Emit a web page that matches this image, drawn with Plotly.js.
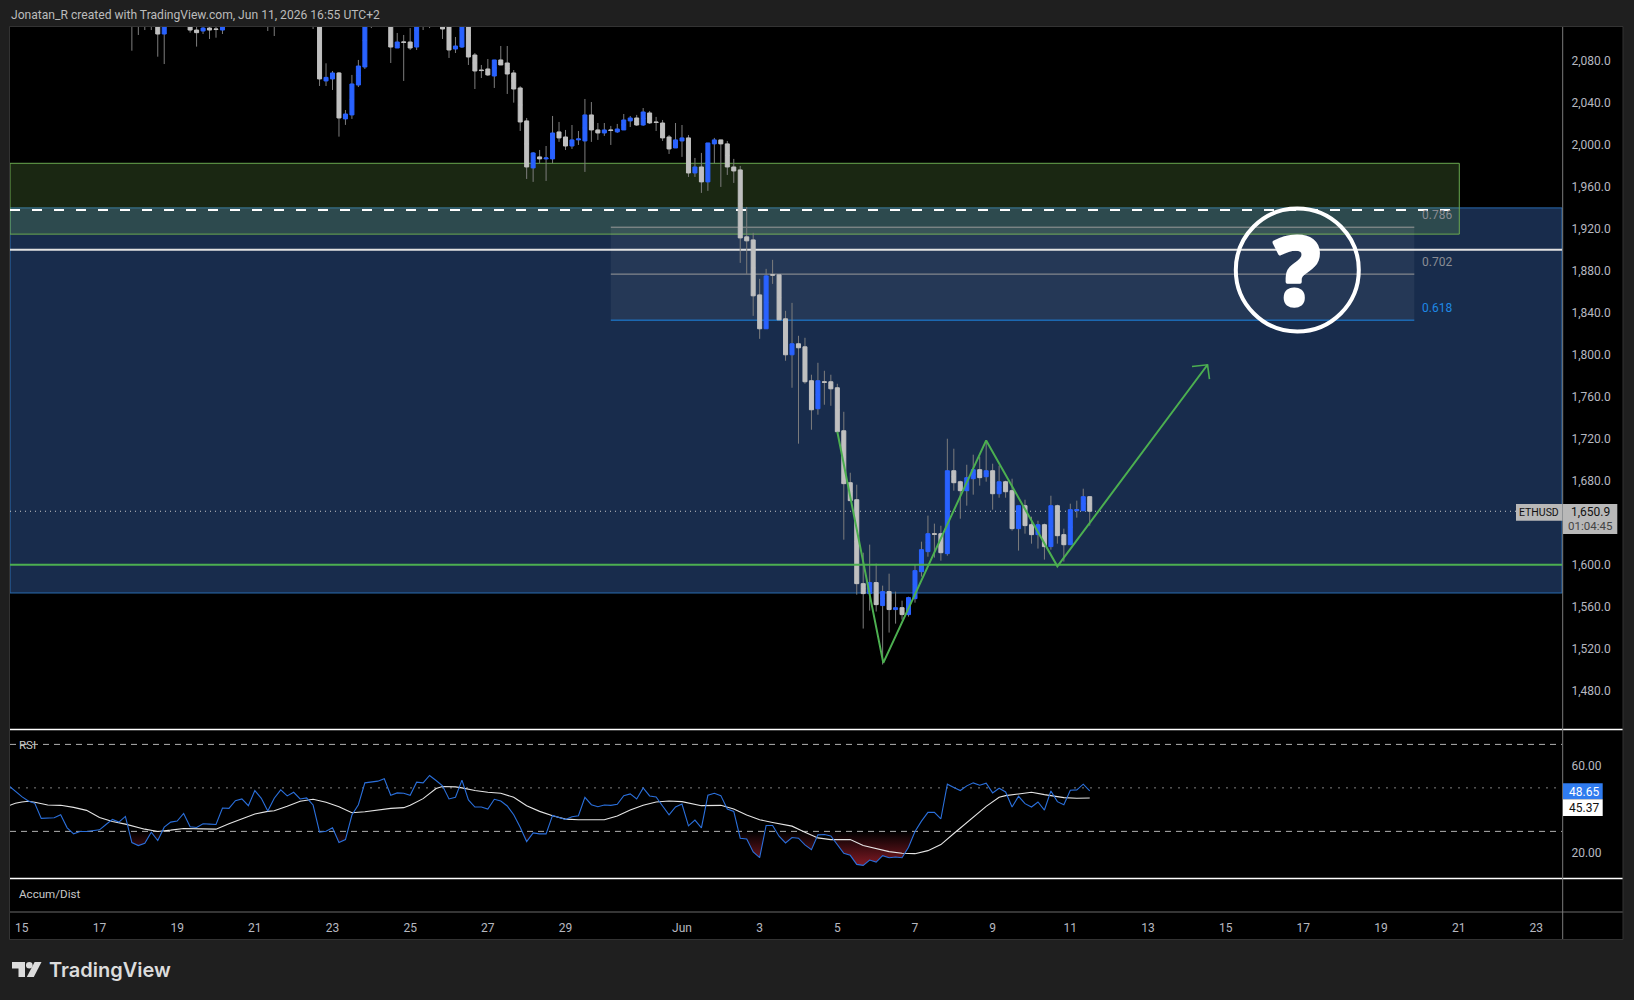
<!DOCTYPE html>
<html>
<head>
<meta charset="utf-8">
<script src="https://cdn.plot.ly/plotly-3.0.1.min.js"></script>
<style>html,body{margin:0;padding:0;background:#1f1f1f;overflow:hidden}</style>
</head>
<body>
<div id="chart" style="width:1634px;height:1000px"></div>
<script>
// ---------- data (4-hour candles, ETHUSD) ----------
const firstCandle = -85; // candles counted from Jun 1 00:00
const candleOpen = [
2150,2125,2140,2125,2135,2105.7,2130,2140,2125,2118,
2109.5,2108.6,2111.4,2110.5,2109.5,2116,2125,2135,2128,2140,
2132,2138,2130,2142,2150,2142,2155,2148,2152,2140,
2061,2062.9,2068.6,2024.8,2028.6,2057.1,2074.3,2125,2120,2130,
2135,2092.4,2098,2098.1,2093.3,2125,2118,2125,2118,2125,
2091.4,2093.3,2125,2085.7,2071.3,2072.4,2065.7,2081,2078.1,2068.6,
2054.3,2022.9,1978.1,1988.6,1986.7,1986.7,2012.4,2007.6,1999,2004.8,
2003.8,2028.6,2014.3,2011.4,2014.2,2012.4,2014.3,2022.9,2025.7,2019,
2030.5,2021.8,2020.9,2007.6,1997.1,2003.8,2006.7,1973.3,1979,1964.8,
2001,2004.8,2001,1979,1976.2,1912.4,1909.5,1857.1,1824.8,1876.3,
1876.2,1834.3,1800,1810.5,1807.6,1775.3,1748.6,1774.2,1774.3,1768.6,
1727.6,1678.1,1661.9,1581.9,1572.4,1582.9,1561,1574.3,1557.2,1559,
1552.4,1567.6,1593.3,1612.4,1629.4,1629.5,1610.5,1689.5,1679,1670.5,
1681.9,1690.5,1683.8,1689.5,1667.6,1679,1670.5,1634.3,1656.2,1638.1,
1628.6,1638.1,1617.2,1656.2,1628.6,1619,1651.4,1651.4,1664.8];
const candleHigh = [
2160,2150,2150,2145,2140,2135,2150,2148,2140,2125,
2120,2118,2118,2116,2120,2135,2140,2145,2150,2148,
2146,2145,2150,2160,2158,2165,2162,2160,2158,2148,
2077.8,2070.5,2069.5,2033.3,2066.7,2081,2135,2135,2140,2148,
2145,2106.7,2104.8,2111.4,2135,2130,2135,2140,2130,2135,
2102.9,2135,2132,2087.6,2076.2,2081.9,2081,2094.3,2094.3,2071.4,
2056,2025.7,1993.3,1995.2,1999,2027.6,2021.9,2014.3,2019,2013.3,
2043.8,2040.9,2020.9,2020.9,2018.1,2020,2029.5,2027.6,2028.6,2035.2,
2032.4,2026.7,2023.8,2009.5,2020.9,2019,2009.5,1987.6,1992.4,2001.9,
2006.7,2004.8,2003.8,1986.7,1980,1940.9,1916.2,1872.4,1881.9,1890.5,
1876.2,1841.9,1849.5,1818.1,1816.2,1781,1792.4,1784.8,1781,1772.4,
1745.7,1687.6,1676.2,1611.4,1619.1,1601,1580,1591.4,1574.3,1565.7,
1569.5,1600,1621.9,1646.7,1639.1,1637.1,1720,1710.5,1680,1695.2,
1704.8,1702.9,1718.1,1696.2,1694.3,1680,1681.9,1656.2,1661.9,1645.7,
1641.9,1639.1,1665.7,1657.2,1634.3,1658.1,1661,1672.4,1664.8];
const candleLow = [
2089.8,2104.8,2109.5,2109.5,2084.1,2077.1,2115,2115,2114,2107,
2093.7,2105.7,2101,2102.2,2105.7,2114,2116,2118,2120,2122,
2120,2108.6,2103.8,2125,2128,2130,2132,2125,2110.5,2056.2,
2056.2,2052.4,2007.9,2019.1,2024.8,2055.2,2072.4,2111.4,2114,2116,
2078.1,2092.4,2061,2090.5,2090.5,2109.5,2111.4,2114,2101,2082.9,
2087.6,2092.4,2076.2,2053.3,2063.8,2065.7,2054.3,2076.2,2048.6,2040.3,
2013.3,1967.6,1964.8,1982.5,1965.7,1982.5,2002.9,1995.2,1996.2,2000,
1974.3,2002.9,2004.8,2008.6,2000,2011.4,2014.3,2017.1,2018.1,2018.1,
2020,2013.3,2003.8,1991.4,1997.1,1988.6,1969.5,1969.5,1954.3,1956.2,
1982.5,1960,1971.4,1963.8,1887.6,1877.1,1837.1,1815.2,1824.8,1867.6,
1833.3,1794.3,1768.6,1715.3,1772.4,1728.6,1742.9,1752.4,1751.4,1726.7,
1623.8,1661,1571.4,1539.1,1556.2,1555.3,1504.8,1535.3,1543.8,1547.6,
1550.5,1563.8,1588.6,1607.6,1606.7,1603.8,1608.6,1670.5,1643.8,1656.2,
1666.7,1675.3,1679.1,1652.4,1663.8,1663.8,1632.4,1613.4,1629.5,1620,
1615.3,1604.8,1614.3,1620,1602.9,1619,1644.8,1651.4,1637.2];
const candleClose = [
2125,2140,2125,2135,2105.7,2130,2140,2125,2130,2109.5,
2107,2111.4,2109.5,2110,2116,2125,2135,2128,2140,2132,
2138,2130,2142,2150,2142,2155,2148,2152,2145,2062.9,
2064.4,2068.6,2025.7,2029.5,2058.1,2075.2,2125,2120,2130,2138,
2093.3,2098.1,2097.8,2092.4,2125,2118,2125,2130,2110.5,2090.5,
2094.3,2125,2083.8,2070.5,2070.9,2066.7,2081,2076.2,2067.6,2053.3,
2021.9,1979,1992.4,1986.7,1987.6,2011.4,2006.7,1999,2004.8,2005.7,
2028.6,2014.3,2011.4,2014.3,2013.8,2015.2,2023.8,2025.7,2019,2031.4,
2021,2021.4,2006.7,1996.2,2004.8,2006.7,1973.3,1979,1964.8,2001.9,
2004.8,2001,1979,1975.2,1911.4,1908.6,1856.2,1824.8,1875.2,1876,
1833.3,1800,1810.5,1806.7,1774.3,1747.6,1775.3,1773.8,1767.6,1726.7,
1677.2,1661,1581.9,1572.4,1582.9,1561.9,1574.3,1557.2,1559,1552.4,
1568.6,1594.3,1614.3,1629.5,1629,1611.4,1689.5,1678.1,1670.5,1682.9,
1690.5,1682.9,1689.5,1667.6,1679,1669.5,1634.3,1656.2,1637.2,1628.6,
1638.1,1617.2,1656.2,1627.6,1619,1652.4,1652.4,1664.8,1650.9];

const firstRsi = -104;
const rsiValues = [
50.93,48.30,45.99,43.98,42.90,35.96,35.96,36.27,37.65,31.64,
28.86,29.94,29.94,30.25,30.71,33.18,35.49,34.26,36.88,24.85,
23.46,24.54,29.63,25.77,31.94,34.26,34.72,38.27,32.10,31.79,
33.49,33.33,33.18,40.74,40.59,44.14,44.91,41.82,48.77,45.22,
39.35,45.22,49.07,46.30,47.99,44.91,45.37,42.13,29.63,30.09,
31.64,24.85,26.23,37.50,42.28,52.31,52.62,53.09,54.17,46.60,
47.69,47.53,46.60,52.62,52.31,55.71,53.40,50.93,44.91,45.68,
53.55,44.44,41.20,41.20,40.28,44.75,43.98,41.67,37.65,31.94,
25.31,29.32,28.86,28.86,37.35,36.57,35.49,36.73,37.19,45.68,
42.28,41.36,42.13,41.98,42.44,46.45,47.22,44.91,50.00,46.30,
45.83,41.67,37.65,41.20,42.59,32.56,35.19,31.64,46.60,47.53,
46.45,40.28,39.20,26.85,26.54,20.52,17.90,32.72,32.72,27.78,
24.69,27.16,26.85,23.77,21.60,28.40,28.55,27.93,23.77,19.91,
18.98,14.81,14.35,16.82,15.90,18.83,17.90,18.21,17.90,22.69,
29.94,34.72,38.73,38.73,35.80,51.70,50.15,48.77,50.93,52.31,
51.23,52.16,47.69,49.85,48.15,41.20,46.14,42.75,41.20,43.52,
39.81,48.61,43.67,42.28,48.92,49.07,51.70,48.65];

const maIndex = [-104,-103,-102,-101,-100,-98,-96,-94,-92,-90,-88,-86,-83,-81,-79,-77,-74,-72,-70,-68,-66,-64,-63,-61,-59,-57,-55,-53,-51,-49,-47,-45,-43,-42,-40,-38,-37,-35,-34,-32,-30,-28,-26,-24,-22,-20,
-18,-16,-12,-10,-8,-6,-4,-2,0,3,6,8,10,12,14,17,19,21,23,26,28,30,32,34,36,38,40,42,45,47,49,50,52,54,56,59,61,63];
const maValues = [41.82,42.90,43.52,43.83,43.36,42.13,41.98,41.05,39.66,36.42,34.57,33.33,31.02,29.94,30.56,31.33,31.17,31.02,33.49,35.80,37.96,39.20,39.51,41.51,43.83,44.75,43.36,41.36,38.58,39.04,39.81,40.59,40.90,41.98,45.06,49.69,50.62,50.46,50.00,48.77,47.99,47.53,45.68,41.82,39.20,37.19,
35.65,35.34,35.34,37.04,39.81,41.98,43.52,43.98,43.67,41.82,41.98,40.28,37.50,35.34,34.10,32.41,29.63,27.01,26.23,26.23,23.46,21.91,20.68,19.91,19.75,21.14,23.92,29.01,36.42,41.51,45.68,46.45,47.22,47.99,46.91,45.52,45.22,45.37];

const priceTicks = [1480,1520,1560,1600,1640,1680,1720,1760,1800,1840,1880,1920,1960,2000,2040,2080];
const rsiTicks = [60,20];
const dayTicks = ['2026-05-15','2026-05-17','2026-05-19','2026-05-21','2026-05-23','2026-05-25','2026-05-27','2026-05-29','2026-06-01','2026-06-03','2026-06-05','2026-06-07','2026-06-09','2026-06-11','2026-06-13','2026-06-15','2026-06-17','2026-06-19','2026-06-21','2026-06-23'];
const dayLabels = ['15','17','19','21','23','25','27','29','Jun','3','5','7','9','11','13','15','17','19','21','23'];

// drawn levels and the projected path
const blueZone = [1573, 1940];
const greenZone = [1915, 1982.5];
const fibLevels = [0.786, 0.702, 0.618];
const fibPrices = [1921.6, 1876.9, 1833];
const fibColors = ['#9a9a9a', '#9a9a9a', '#1e88e5'];
const dashedLevel = 1938;
const whiteLevel = 1900;
const greenLevel = 1600;
const lastPrice = 1650.9;
const pathIndex = [24, 31.1, 47, 58, 81.2];
const pathPrice = [1726.7, 1506.4, 1718.4, 1598.4, 1790.5];
const headIndex = [78.8, 81.2, 81.5];
const headPrice = [1788.9, 1790.5, 1776.9];

// ---------- helpers ----------
const PL = 10, PR = 1562, PT = 27, PB = 912;
const X = px => (px - PL) / (PR - PL);
const Y = py => (PB - py) / (PB - PT);
const at = k => new Date(Date.UTC(2026, 5, 1) + k * 4 * 3600e3).toISOString().slice(0, 19).replace('T', ' ');
const candleTimes = candleOpen.map((_, i) => at(firstCandle + i));
const rsiTimes = rsiValues.map((_, i) => at(firstRsi + i));
const BLUE = '#2962ff', GREY = '#c0c0c0', GREEN = '#4caf50', TXT = '#b7b9c0', FONT = 'Roboto, "Liberation Sans", Arial, sans-serif';

// oversold area: the part of the RSI below 30
const osX = [], osY = [];
rsiValues.forEach((v, i) => {
  if (i > 0) {
    const p = rsiValues[i - 1];
    if ((p - 30) * (v - 30) < 0) { osX.push(at(firstRsi + i - 1 + (30 - p) / (v - p))); osY.push(30); }
  }
  osX.push(at(firstRsi + i)); osY.push(Math.min(v, 30));
});

const bodyHigh = candleOpen.map((o, i) => Math.max(o, candleClose[i]));
const bodyLow = candleOpen.map((o, i) => Math.min(o, candleClose[i]));
const mid = candleOpen.map((o, i) => (o + candleClose[i]) / 2);

const traces = [
  {type:'candlestick', x:candleTimes, open:mid, close:mid, high:candleHigh, low:candleLow, whiskerwidth:0,
   increasing:{line:{color:'#7d7d7d',width:1}}, decreasing:{line:{color:'#7d7d7d',width:1}}, hoverinfo:'skip', showlegend:false},
  {type:'candlestick', x:candleTimes, open:candleOpen, close:candleClose, high:bodyHigh, low:bodyLow, whiskerwidth:0,
   increasing:{line:{color:BLUE,width:1},fillcolor:BLUE}, decreasing:{line:{color:GREY,width:1},fillcolor:GREY}, hoverinfo:'skip', showlegend:false},
  {type:'scatter', mode:'lines', x:pathIndex.map(at), y:pathPrice, line:{color:GREEN,width:2}, hoverinfo:'skip', showlegend:false},
  {type:'scatter', mode:'lines', x:headIndex.map(at), y:headPrice, line:{color:GREEN,width:1.6}, hoverinfo:'skip', showlegend:false},
  {type:'scatter', mode:'lines', x:osX, y:osX.map(() => 30), yaxis:'y2', line:{color:'rgba(0,0,0,0)',width:0}, hoverinfo:'skip', showlegend:false},
  {type:'scatter', mode:'lines', x:osX, y:osY, yaxis:'y2', line:{color:'rgba(0,0,0,0)',width:0}, fill:'tonexty',
   fillgradient:{type:'vertical', start:14.35, stop:30, colorscale:[[0,'rgba(128,26,36,1)'],[1,'rgba(128,26,36,0)']]}, hoverinfo:'skip', showlegend:false},
  {type:'scatter', mode:'lines', x:maIndex.map(at), y:maValues, yaxis:'y2', line:{color:'#e4e4e4',width:1.1}, hoverinfo:'skip', showlegend:false},
  {type:'scatter', mode:'lines', x:rsiTimes, y:rsiValues, yaxis:'y2', line:{color:'#2a6fdb',width:1.1}, hoverinfo:'skip', showlegend:false}
];

const hline = (y, color, width, dash, x0, x1, layer, yref) => ({type:'line', xref:'paper', yref:yref||'y', x0:x0===undefined?0:x0, x1:x1===undefined?1:x1, y0:y, y1:y, line:{color, width, dash:dash||'solid'}, layer:layer||'below'});
const paperRect = (x0, x1, y0, y1, fill, layer) => ({type:'rect', xref:'paper', yref:'paper', x0:X(x0), x1:X(x1), y0:Y(y0), y1:Y(y1), fillcolor:fill, line:{width:0}, layer:layer||'above'});
const paperLine = (x0, x1, y0, y1, color, width) => ({type:'line', xref:'paper', yref:'paper', x0:X(x0), x1:X(x1), y0:Y(y0), y1:Y(y1), line:{color, width}, layer:'above'});

const shapes = [
  paperRect(10, 1623, 27, 939, '#000000', 'below'),
  {type:'rect', xref:'paper', yref:'y', x0:0, x1:1, y0:blueZone[0], y1:blueZone[1], fillcolor:'#182c4c', line:{color:'#2a6cb0',width:1}, layer:'below'},
  {type:'rect', xref:'paper', yref:'y', x0:0, x1:X(1459.3), y0:greenZone[0], y1:greenZone[1], fillcolor:'rgba(130,195,90,0.2)', line:{color:'#6aa84f',width:1}, layer:'below'},
  {type:'rect', xref:'x', yref:'y', x0:at(-11), x1:at(113.15), y0:fibPrices[2], y1:fibPrices[0], fillcolor:'rgba(255,255,255,0.06)', line:{width:0}, layer:'below'},
  ...fibPrices.map((p, i) => ({type:'line', xref:'x', yref:'y', x0:at(-11), x1:at(113.15), y0:p, y1:p, line:{color:fibColors[i],width:1}, layer:'below'})),
  hline(dashedLevel, '#ffffff', 2, '10px,12px', 0, X(1452)),
  hline(whiteLevel, '#e2e2e2', 2),
  hline(greenLevel, GREEN, 2, 'solid', 0, 1, 'above'),
  hline(lastPrice, '#c8c8c8', 1, '1px,4px', 0, X(1516), 'below'),
  hline(70, '#b0b0b0', 1, '6px,5px', 0, 1, 'below', 'y2'),
  hline(50, '#808080', 1, '2px,6px', 0, 1, 'below', 'y2'),
  hline(30, '#b0b0b0', 1, '6px,5px', 0, 1, 'below', 'y2'),
  {type:'circle', xref:'paper', yref:'paper', x0:X(1297.3-61.5), x1:X(1297.3+61.5), y0:Y(270+61.5), y1:Y(270-61.5), line:{color:'#ffffff',width:4}, layer:'above'},
  paperLine(10, 1623, 729.5, 729.5, '#ffffff', 1.5),
  paperLine(10, 1623, 878.5, 878.5, '#ffffff', 1.5),
  paperLine(10, 1623, 912, 912, '#6a6a6a', 1),
  paperLine(1562.7, 1562.7, 27, 939, '#7a7a7a', 1),
  {type:'rect', xref:'paper', yref:'paper', x0:X(9.5), x1:X(1623), y0:Y(26.5), y1:Y(939.5), line:{color:'#333333',width:1}, layer:'above'},
  paperRect(1516, 1562.5, 504, 520.7, '#b8b8b8'),
  paperRect(1563, 1617.3, 504, 534, '#b8b8b8'),
  paperRect(1563, 1602.7, 783.3, 799.3, '#2f7bef'),
  paperRect(1563, 1602.7, 799.3, 816, '#ffffff'),
  {type:'path', xref:'paper', yref:'paper', fillcolor:'#dcdcdc', line:{width:0}, layer:'above',
   path:`M ${X(12)} ${Y(962)} L ${X(25)} ${Y(962)} L ${X(25)} ${Y(977)} L ${X(18.5)} ${Y(977)} L ${X(18.5)} ${Y(968.5)} L ${X(12)} ${Y(968.5)} Z`},
  {type:'circle', xref:'paper', yref:'paper', fillcolor:'#dcdcdc', line:{width:0}, layer:'above', x0:X(26), x1:X(32.6), y0:Y(968.6), y1:Y(962)},
  {type:'path', xref:'paper', yref:'paper', fillcolor:'#dcdcdc', line:{width:0}, layer:'above',
   path:`M ${X(34.6)} ${Y(962)} L ${X(41.5)} ${Y(962)} L ${X(33.8)} ${Y(977)} L ${X(26.8)} ${Y(977)} Z`}
];

const label = (text, px, py, size, color, anchor, extra) => Object.assign({text, xref:'paper', yref:'paper', x:X(px), y:Y(py), xanchor:anchor||'left', yanchor:'middle', showarrow:false, font:{family:FONT, size, color}, borderpad:0}, extra||{});

const annotations = [
  label('Jonatan_R created with TradingView.com, Jun 11, 2026 16:55 UTC+2', 10, 14.7, 12.1, '#bcbcbc'),
  label('TradingView', 48, 970, 20, '#dcdcdc', 'left', {font:{family:'Inter, sans-serif', size:20, color:'#dcdcdc', weight:600}}),
  label('RSI', 18, 745, 11.5, '#c8c8c8'),
  label('Accum/Dist', 18, 894, 11.6, '#c8c8c8'),
  label(fibLevels[0].toFixed(3), 1436.7, 214.7, 12, '#8a8c94', 'center'),
  label(fibLevels[1].toFixed(3), 1436.7, 261.7, 12, '#8a8c94', 'center'),
  label(fibLevels[2].toFixed(3), 1436.7, 307.7, 12, '#1e88e5', 'center'),
  label('?', 1297, 269, 94, '#ffffff', 'center', {font:{family:'"Noto Sans", sans-serif', size:94, color:'#ffffff', weight:800}}),
  label('ETHUSD', 1539, 512.5, 10.5, '#111111', 'center'),
  label(lastPrice.toLocaleString('en-US',{minimumFractionDigits:1}), 1590, 512, 12, '#111111', 'center'),
  label('01:04:45', 1590, 525.5, 11.5, '#444444', 'center'),
  label(rsiValues[rsiValues.length-1].toFixed(2), 1584, 791.5, 12, '#ffffff', 'center'),
  label(maValues[maValues.length-1].toFixed(2), 1584, 808, 12, '#111111', 'center')
];

const axisFont = {family:FONT,size:12,color:TXT};
const layout = {
  width:1634, height:1000,
  margin:{l:PL, r:1634-PR, t:PT, b:1000-PB, pad:0},
  paper_bgcolor:'#1f1f1f', plot_bgcolor:'#000000',
  showlegend:false, dragmode:false, hovermode:false,
  font:{family:FONT, size:11, color:TXT},
  boxgap:0.38, boxgroupgap:0,
  xaxis:{type:'date', range:[at(-103.83), at(135.97)], rangeslider:{visible:false}, anchor:'free', position:0,
    tickmode:'array', tickvals:dayTicks, ticktext:dayLabels, ticks:'outside', ticklen:5, tickcolor:'rgba(0,0,0,0)',
    showgrid:false, zeroline:false, showline:false, tickfont:axisFont},
  yaxis:{domain:[Y(729.5),1], range:[1442.9, 2112.4], side:'right', anchor:'x', tickmode:'array', tickvals:priceTicks,
    ticktext:priceTicks.map(v => v.toLocaleString('en-US',{minimumFractionDigits:1})), ticks:'outside', ticklen:6, tickcolor:'rgba(0,0,0,0)',
    showgrid:false, zeroline:false, showline:false, tickfont:axisFont},
  yaxis2:{domain:[Y(878.5),Y(729.5)], range:[8.33, 76.85], side:'right', anchor:'x', tickmode:'array', tickvals:rsiTicks,
    ticktext:rsiTicks.map(v => v.toFixed(2)), ticks:'outside', ticklen:6, tickcolor:'rgba(0,0,0,0)',
    showgrid:false, zeroline:false, showline:false, tickfont:axisFont},
  shapes, annotations
};

Plotly.newPlot('chart', traces, layout, {displayModeBar:false, staticPlot:true}).then(gd => {
  // heavier, rounded question mark as in the reference
  gd.querySelectorAll('.annotation-text').forEach(t => {
    if (t.textContent === '?') { t.style.stroke = '#ffffff'; t.style.strokeWidth = '3.5px'; t.style.strokeLinejoin = 'round'; }
  });
});
</script>
</body>
</html>
